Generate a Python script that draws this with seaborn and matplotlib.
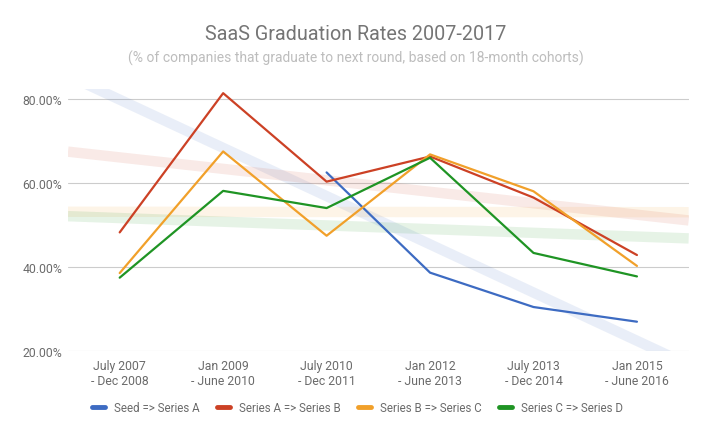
import numpy as np
import pandas as pd
import matplotlib
matplotlib.use("Agg")
import matplotlib.pyplot as plt
from matplotlib.ticker import FuncFormatter
import seaborn as sns

periods = ["July 2007\n- Dec 2008", "Jan 2009\n- June 2010", "July 2010\n- Dec 2011",
           "Jan 2012\n- June 2013", "July 2013\n- Dec 2014", "Jan 2015\n- June 2016"]
series_names = ["Seed => Series A", "Series A => Series B", "Series B => Series C", "Series C => Series D"]
seed_a = [np.nan, np.nan, 62.5, 38.6, 30.4, 26.9]
a_b = [48.2, 81.4, 60.3, 66.3, 56.5, 42.8]
b_c = [38.5, 67.5, 47.4, 66.8, 58.0, 40.2]
c_d = [37.4, 58.1, 54.0, 66.0, 43.3, 37.7]
colors = ["#3d6bc2", "#cc4125", "#f1a02a", "#1f9424"]

sns.set_theme(style="white")
plt.rcParams['font.family'] = ['Roboto', 'DejaVu Sans']

idx = np.arange(len(periods))
df = pd.DataFrame({
    "x": np.tile(idx, 4),
    "rate": seed_a + a_b + b_c + c_d,
    "series": np.repeat(series_names, len(periods)),
})

fig = plt.figure(figsize=(7.11, 4.39), dpi=100)
ax = fig.add_axes([0.0956, 0.199, 0.873, 0.597])

# wide faded linear trendlines over the whole axis
xs = np.array([-0.5, 5.5])
for vals, c in zip([seed_a, a_b, b_c, c_d], colors):
    v = np.array(vals)
    ok = ~np.isnan(v)
    k, b = np.polyfit(idx[ok], v[ok], 1)
    ax.plot(xs, k * xs + b, color=c, alpha=0.11, lw=7.5, solid_capstyle="butt", zorder=1)

sns.lineplot(data=df, x="x", y="rate", hue="series", hue_order=series_names,
             palette=colors, lw=1.6, ax=ax, zorder=3, legend=False)

ax.set_xlim(-0.5, 5.5)
ax.set_ylim(20, 82.5)
ax.set_yticks([20, 40, 60, 80])
ax.yaxis.set_major_formatter(FuncFormatter(lambda v, p: f"{v:.2f}%"))
ax.set_xticks(idx)
ax.set_xticklabels(periods)
ax.grid(axis="y", color="#cccccc", lw=0.8)
ax.set_axisbelow(True)
for s in ax.spines.values():
    s.set_visible(False)
ax.tick_params(axis="both", length=0, labelcolor="#6b6b6b", labelsize=8.8)
ax.tick_params(axis="x", pad=6)
ax.tick_params(axis="y", pad=4)
ax.set_xlabel("")
ax.set_ylabel("")

fig.text(0.5, 1 - 35 / 439, "SaaS Graduation Rates 2007-2017", ha="center", va="center",
         fontsize=14.2, color="#757575")
fig.text(0.5, 1 - 58 / 439, "(% of companies that graduate to next round, based on 18-month cohorts)",
         ha="center", va="center", fontsize=10.0, color="#bdbdbd")

handles = [plt.Line2D([], [], color=c, lw=3.5) for c in colors]
fig.legend(handles, series_names, loc="center left", bbox_to_anchor=(82 / 711, 1 - 409 / 439),
           ncol=4, frameon=False, handlelength=1.1, handletextpad=0.8, columnspacing=1.5,
           fontsize=8.3, labelcolor="#6b6b6b")

fig.savefig("out.png", dpi=100)
